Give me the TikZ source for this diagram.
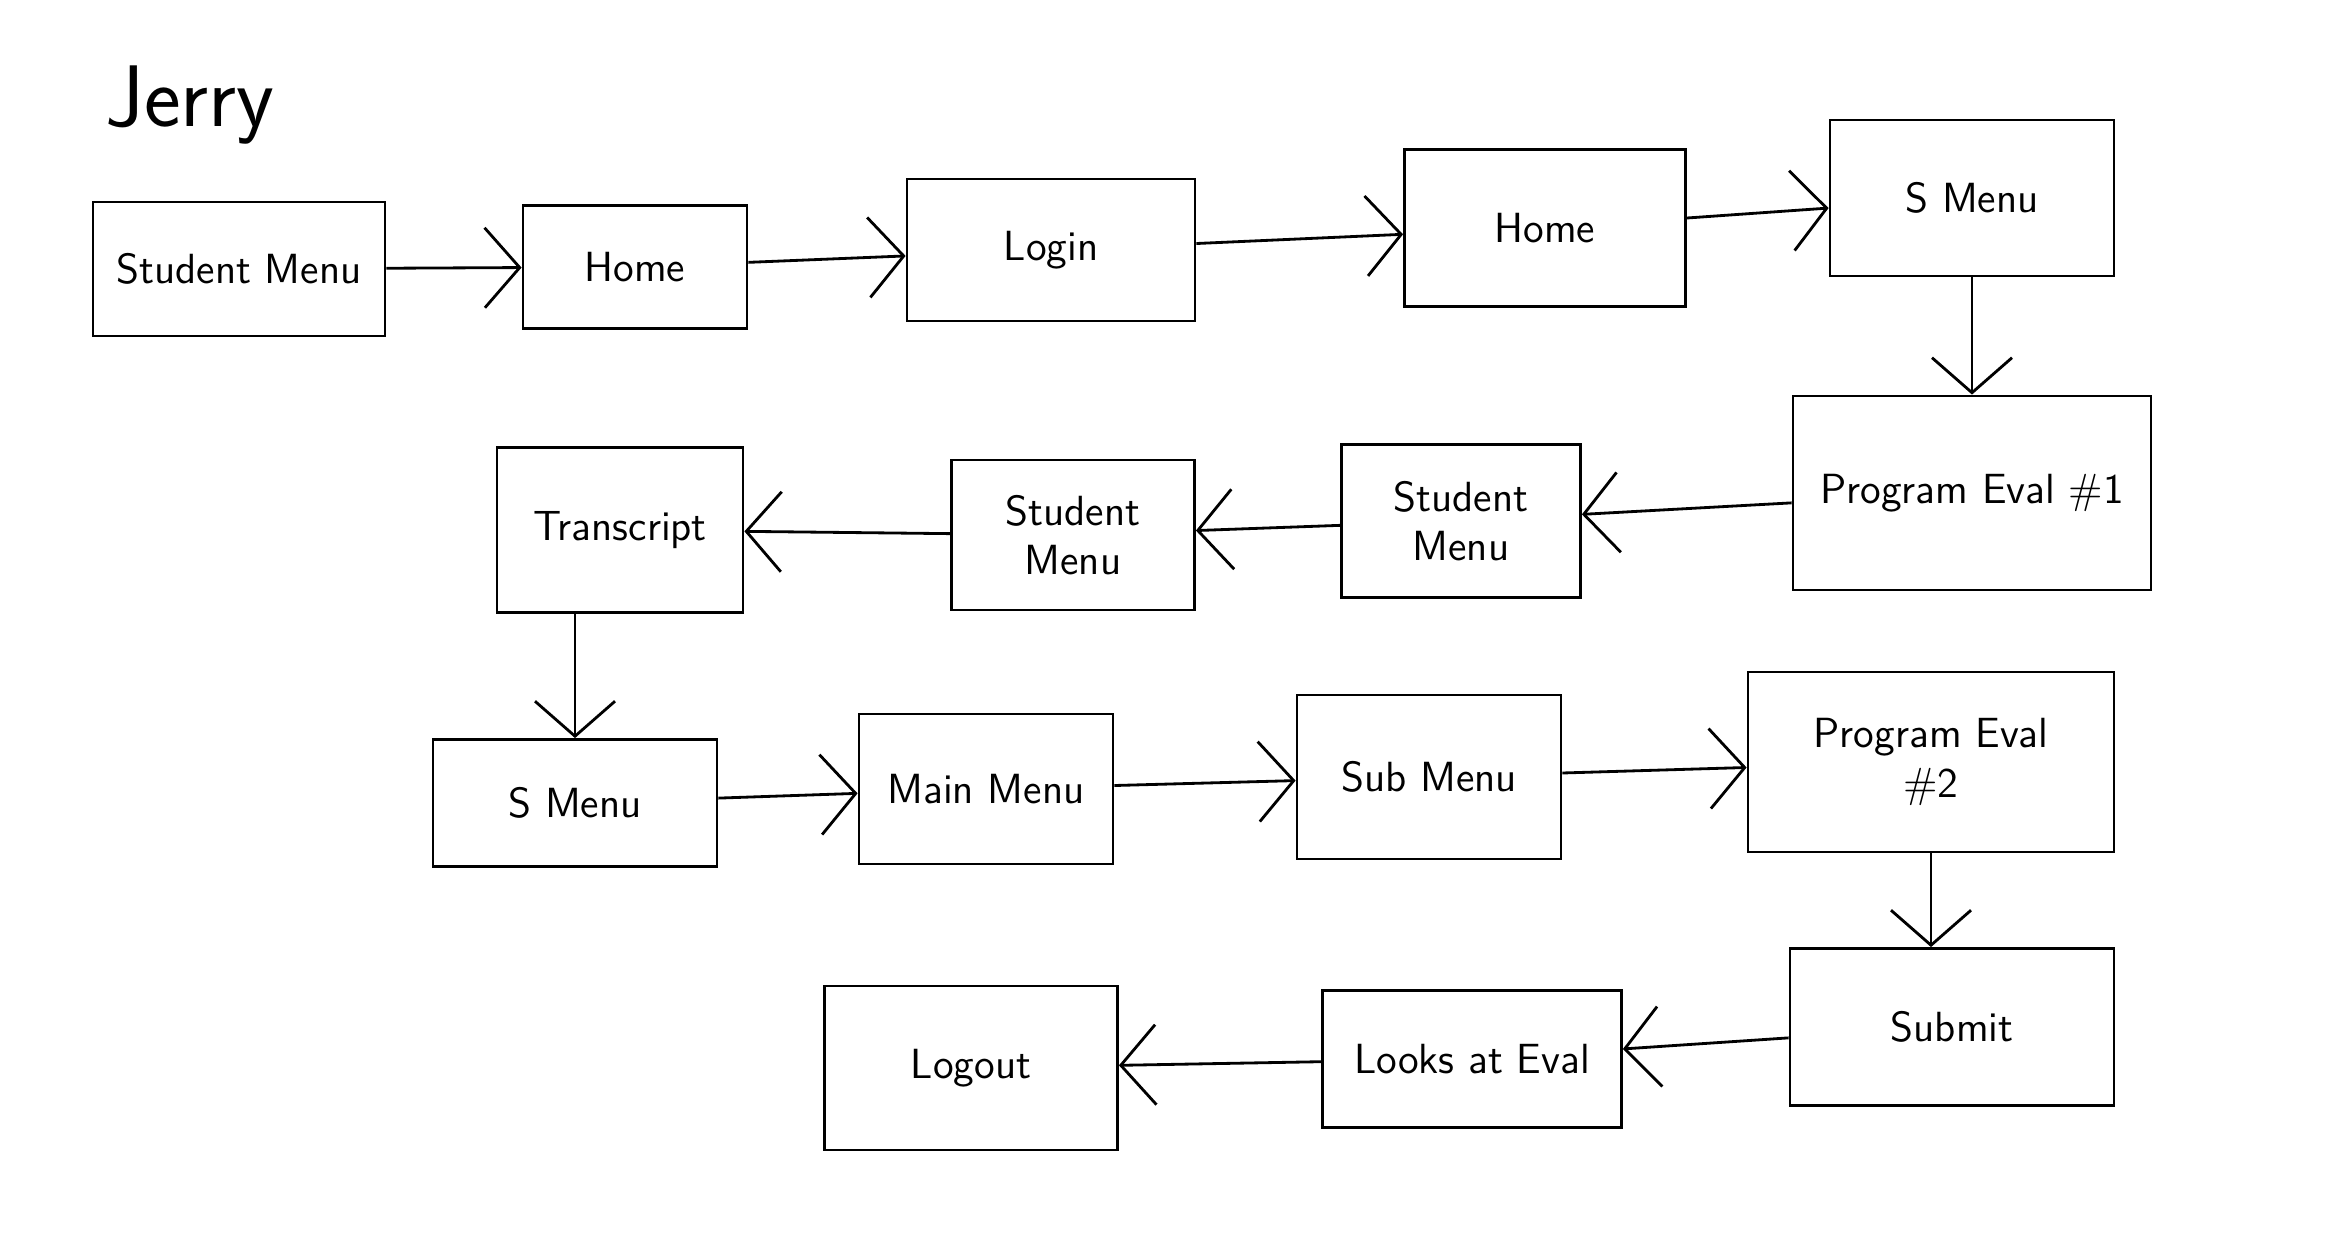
\documentclass[tikz,border=0pt]{standalone}
\usepackage{tikz}
\usetikzlibrary{shapes,arrows.meta,positioning}

\begin{document}
\begin{tikzpicture}[
    screen/.style={rectangle, draw, line width=0.8pt, fill=white, text=black, align=center, inner sep=2pt},
    flow/.style={draw, line width=0.8pt, -{Straight Barb[length=3.5mm,width=8mm,line width=0.8pt]}},
    font=\sffamily\large]
    \useasboundingbox (0,0) rectangle (23.43,12.41);
    \node [font=\sffamily\Huge] (title) at (1.90,11.36) {Jerry};
    % first row
    \node [screen, minimum width=2.92cm, minimum height=1.34cm] (studentmenu) at (2.39,9.72) {Student Menu};
    \node [screen, minimum width=2.24cm, minimum height=1.23cm] (home) at (6.35,9.74) {Home};
    \node [screen, minimum width=2.88cm, minimum height=1.42cm] (login) at (10.51,9.91) {Login};
    \node [screen, minimum width=2.81cm, minimum height=1.57cm] (homeb) at (15.45,10.13) {Home};
    \node [screen, minimum width=2.84cm, minimum height=1.56cm] (smenu) at (19.72,10.43) {S Menu};
    \path [flow] (studentmenu) -- (home);
    \path [flow] (home) -- (login);
    \path [flow] (login) -- (homeb);
    \path [flow] (homeb) -- (smenu);
    % second row
    \node [screen, minimum width=3.58cm, minimum height=1.94cm] (evalone) at (19.72,7.48) {Program Eval \#1};
    \node [screen, minimum width=2.39cm, minimum height=1.53cm] (studentmenub) at (14.61,7.20) {Student\\Menu};
    \node [screen, minimum width=2.43cm, minimum height=1.50cm] (studentmenuc) at (10.73,7.06) {Student\\Menu};
    \node [screen, minimum width=2.46cm, minimum height=1.65cm] (transcript) at (6.20,7.11) {Transcript};
    \path [flow] (smenu) -- (evalone);
    \path [flow] (evalone) -- (studentmenub);
    \path [flow] (studentmenub) -- (studentmenuc);
    \path [flow] (studentmenuc) -- (transcript);
    % third row
    \node [screen, minimum width=2.84cm, minimum height=1.27cm] (smenub) at (5.75,4.38) {S Menu};
    \node [screen, minimum width=2.54cm, minimum height=1.50cm] (mainmenu) at (9.86,4.52) {Main Menu};
    \node [screen, minimum width=2.64cm, minimum height=1.64cm] (submenu) at (14.29,4.64) {Sub Menu};
    \node [screen, minimum width=3.66cm, minimum height=1.80cm] (evaltwo) at (19.31,4.79) {Program Eval\\\#2};
    \path [flow] (smenub.north |- transcript.south) -- (smenub.north);
    \path [flow] (smenub) -- (mainmenu);
    \path [flow] (mainmenu) -- (submenu);
    \path [flow] (submenu) -- (evaltwo);
    % last row
    \node [screen, minimum width=3.24cm, minimum height=1.57cm] (submit) at (19.52,2.14) {Submit};
    \node [screen, minimum width=2.99cm, minimum height=1.37cm] (looks) at (14.72,1.82) {Looks at Eval};
    \node [screen, minimum width=2.93cm, minimum height=1.64cm] (logout) at (9.71,1.73) {Logout};
    \path [flow] (evaltwo.south) -- (evaltwo.south |- submit.north);
    \path [flow] (submit) -- (looks);
    \path [flow] (looks) -- (logout);
\end{tikzpicture}
\end{document}
